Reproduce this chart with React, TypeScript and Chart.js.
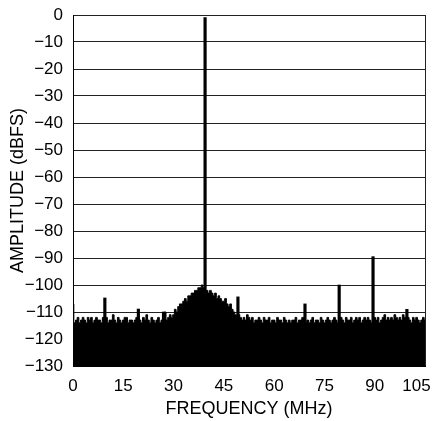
import React, { useEffect, useRef } from "react";
import { Chart, registerables } from "chart.js";

Chart.register(...registerables);

// Noise floor, 0.5 MHz steps from 0 to 105 MHz (dBFS)
const floorStartMHz = 0;
const floorStepMHz = 0.5;
const floorLevels: number[] = [
  -107, -114, -113, -112, -114, -113, -112, -113, -114, -112,
  -113, -112, -114, -113, -112, -113, -113, -114, -112, -113,
  -112, -114, -113, -113, -111, -113, -114, -112, -113, -114,
  -113, -112, -112, -114, -113, -113, -114, -113, -112, -113,
  -113, -114, -112, -113, -111, -113, -114, -112, -113, -114,
  -113, -112, -114, -113, -112, -110, -113, -112, -111, -112,
  -111, -109, -110, -108, -107, -107, -106, -105, -106, -104,
  -104, -103, -103, -102, -102, -101, -101, -100, -101, -102,
  -102, -103, -102, -103, -104, -103, -105, -104, -105, -106,
  -106, -105, -107, -108, -107, -109, -110, -111, -112, -111,
  -112, -113, -112, -113, -111, -112, -113, -112, -114, -113,
  -113, -112, -113, -114, -112, -113, -113, -112, -114, -113,
  -113, -114, -112, -113, -113, -114, -112, -113, -114, -113,
  -114, -113, -113, -112, -114, -113, -113, -112, -113, -114,
  -113, -114, -113, -112, -114, -113, -113, -114, -112, -113,
  -114, -113, -112, -113, -114, -113, -112, -113, -114, -113,
  -112, -113, -114, -112, -113, -113, -112, -114, -113, -112,
  -113, -112, -114, -113, -112, -113, -112, -113, -114, -113,
  -112, -113, -112, -114, -113, -112, -111, -113, -112, -113,
  -112, -113, -111, -112, -113, -112, -113, -111, -112, -113,
  -112, -113, -114, -112, -113, -112, -113, -114, -113, -112, -113,
];

// Spurs and fundamental
const spurFreqMHz: number[] = [9.5, 19.5, 27, 39.4, 49.2, 69.2, 79.4, 89.5, 99.6];
const spurLevels: number[] = [-104.8, -108.9, -110, -1, -104.4, -107, -100, -89.5, -109];

const yTicks: number[] = [0, -10, -20, -30, -40, -50, -60, -70, -80, -90, -100, -110, -120, -130];
const xTicks: number[] = [0, 15, 30, 45, 60, 75, 90, 105];

const FONT = "'Liberation Sans', Arial, sans-serif";

export default function App() {
  const ref = useRef<HTMLCanvasElement>(null);
  useEffect(() => {
    if (!ref.current) return;
    const floorData = floorLevels.map((v, i) => ({ x: floorStartMHz + i * floorStepMHz, y: v }));
    const spurData = spurFreqMHz.map((f, i) => ({ x: f, y: [-130, spurLevels[i]] }));
    const lastX = xTicks[xTicks.length - 1];
    const chart = new Chart(ref.current, {
      type: "line",
      data: {
        datasets: [
          {
            type: "line",
            data: floorData as any,
            borderColor: "#000",
            backgroundColor: "#000",
            borderWidth: 1,
            pointRadius: 0,
            stepped: "middle",
            fill: "start",
          } as any,
          {
            type: "bar",
            data: spurData as any,
            backgroundColor: "#000",
            borderWidth: 0,
            barThickness: 2.5,
            grouped: false,
          } as any,
        ],
      },
      options: {
        animation: false,
        responsive: false,
        maintainAspectRatio: false,
        layout: { padding: { top: 15, right: 12, left: 7, bottom: 1.5 } },
        plugins: { legend: { display: false }, tooltip: { enabled: false } },
        scales: {
          x: {
            type: "linear",
            min: 0,
            max: 105,
            offset: false,
            afterBuildTicks: (s: any) => {
              s.ticks = xTicks.map((v) => ({ value: v }));
            },
            afterFit: (s: any) => {
              s.height = 53.5;
              s.paddingLeft = 0;
              s.paddingRight = 0;
            },
            grid: { display: false, drawTicks: false },
            border: { display: true, color: "#000", width: 1 },
            ticks: {
              color: "#000",
              font: { family: FONT, size: 17 },
              padding: 10,
              maxRotation: 0,
              autoSkip: false,
              callback: (v: any) => (Number(v) === lastX ? String(v) + "\u2002\u2002" : String(v)),
            },
            title: {
              display: true,
              text: "FREQUENCY (MHz)",
              color: "#000",
              font: { family: FONT, size: 18 },
              padding: { top: 0, bottom: 0 },
            },
          },
          y: {
            type: "linear",
            min: -130,
            max: 0,
            afterBuildTicks: (s: any) => {
              s.ticks = yTicks.map((v) => ({ value: v }));
            },
            afterFit: (s: any) => {
              s.width = 66;
              s.paddingTop = 0;
              s.paddingBottom = 0;
            },
            grid: { color: "#222", lineWidth: 1, drawTicks: false },
            border: { display: true, color: "#000", width: 1 },
            ticks: {
              color: "#000",
              font: { family: FONT, size: 17 },
              padding: 10,
              callback: (v: any) => (Number(v) < 0 ? "\u2212" + Math.abs(Number(v)) : String(v)),
            },
            title: {
              display: true,
              text: "AMPLITUDE (dBFS)",
              color: "#000",
              font: { family: FONT, size: 18 },
              padding: { top: 0, bottom: 0 },
            },
          },
        },
      },
      plugins: [
        {
          id: "rightBorder",
          afterDraw(c: any) {
            const { ctx, chartArea } = c;
            ctx.save();
            ctx.strokeStyle = "#222";
            ctx.lineWidth = 1;
            ctx.beginPath();
            ctx.moveTo(Math.round(chartArea.right) + 0.5, chartArea.top);
            ctx.lineTo(Math.round(chartArea.right) + 0.5, chartArea.bottom);
            ctx.stroke();
            ctx.restore();
          },
        },
      ],
    });
    return () => chart.destroy();
  }, []);
  return (
    <div style={{ position: "fixed", left: 0, top: 0, width: 437, height: 421, background: "#fff" }}>
      <canvas ref={ref} width={437} height={421} style={{ width: 437, height: 421 }} />
    </div>
  );
}
